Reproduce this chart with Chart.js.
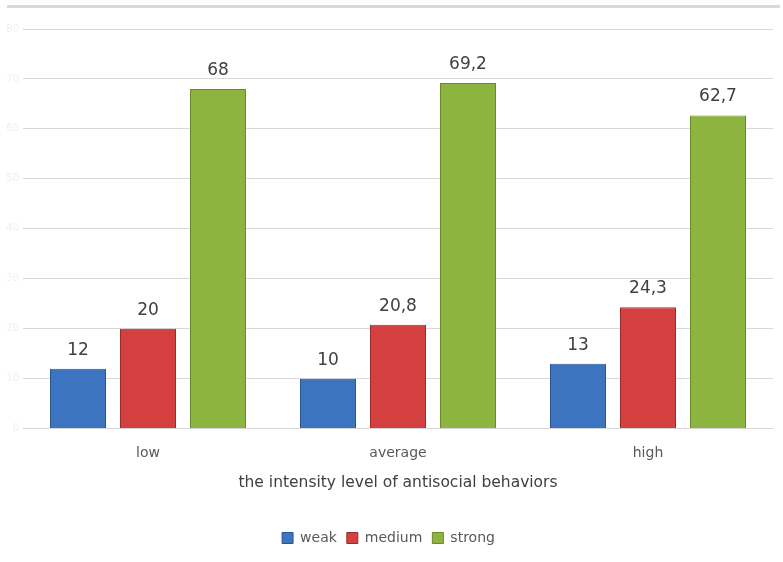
<!DOCTYPE html>
<html>
<head>
<meta charset="utf-8">
<script src="https://cdn.jsdelivr.net/npm/chart.js@4"></script>
<style>
  html, body { margin: 0; padding: 0; background: #fff; }
  #wrap { position: relative; width: 783px; height: 562px; }
  #topline { position: absolute; left: 7px; top: 5px; width: 773px; height: 3px; background: #d9d9d9; }
</style>
</head>
<body>
<div id="wrap">
  <div id="topline"></div>
  <canvas id="grafico" width="783" height="562"></canvas>
</div>
<script>
// Datos
const categorias = ['low', 'average', 'high'];
const weak = [12, 10, 13];
const medium = [20, 20.8, 24.3];
const strong = [68, 69.2, 62.7];
const ticksY = [0, 10, 20, 30, 40, 50, 60, 70, 80];

const fuente = "'DejaVu Sans', sans-serif";

// degradado horizontal para simular el relieve de las barras
function relleno(c1, c2, c3) {
    return function(context) {
        const el = context.element;
        const chart = context.chart;
        if (!el || !chart.chartArea || !Number.isFinite(el.x) || !Number.isFinite(el.width) || el.width <= 0) return c2;
        const w = el.width;
        const g = chart.ctx.createLinearGradient(el.x - w / 2, 0, el.x + w / 2, 0);
        g.addColorStop(0, c1);
        g.addColorStop(0.15, c2);
        g.addColorStop(0.85, c2);
        g.addColorStop(1, c3);
        return g;
    };
}

// etiquetas de valor encima de cada barra
const etiquetas = {
    id: 'etiquetas',
    afterDatasetsDraw(chart) {
        const ctx = chart.ctx;
        ctx.save();
        ctx.font = "17px " + fuente;
        ctx.fillStyle = '#404040';
        ctx.textAlign = 'center';
        ctx.textBaseline = 'bottom';
        chart.data.datasets.forEach((ds, i) => {
            chart.getDatasetMeta(i).data.forEach((bar, j) => {
                const txt = String(ds.data[j]).replace('.', ',');
                ctx.fillText(txt, bar.x, bar.y - 10);
            });
        });
        ctx.restore();
    }
};

new Chart(document.getElementById('grafico').getContext('2d'), {
    type: 'bar',
    data: {
        labels: categorias,
        datasets: [
            { label: 'weak', data: weak, backgroundColor: relleno('#2f5f9f', '#3d74c0', '#2b5a95'), borderColor: '#2a5590', borderWidth: 1 },
            { label: 'medium', data: medium, backgroundColor: relleno('#a83232', '#d43f3f', '#9e2d2d'), borderColor: '#9a2c2c', borderWidth: 1 },
            { label: 'strong', data: strong, backgroundColor: relleno('#6f9530', '#8cb43f', '#6a8f2c'), borderColor: '#688c2a', borderWidth: 1 }
        ]
    },
    options: {
        responsive: false,
        animation: false,
        categoryPercentage: 0.84,
        barPercentage: 0.8,
        layout: { padding: { left: 4, right: 10, top: 29, bottom: 7 } },
        plugins: {
            legend: {
                position: 'bottom',
                labels: {
                    boxWidth: 11,
                    boxHeight: 11,
                    padding: 10,
                    color: '#595959',
                    font: { family: fuente, size: 14 },
                    generateLabels(chart) {
                        const cols = ['#3d74c0', '#d43f3f', '#8cb43f'];
                        const bords = ['#2a5590', '#9a2c2c', '#688c2a'];
                        return chart.data.datasets.map((ds, i) => ({
                            text: ds.label,
                            fillStyle: cols[i],
                            strokeStyle: bords[i],
                            lineWidth: 1,
                            fontColor: '#595959',
                            datasetIndex: i
                        }));
                    }
                }
            },
            tooltip: { enabled: false }
        },
        scales: {
            x: {
                grid: { display: false },
                border: { color: '#d9d9d9', width: 1 },
                ticks: { color: '#595959', font: { family: fuente, size: 14 }, padding: 8 },
                title: {
                    display: true,
                    text: 'the intensity level of antisocial behaviors',
                    color: '#404040',
                    font: { family: fuente, size: 15.5 },
                    padding: { top: 4, bottom: 29 }
                }
            },
            y: {
                min: 0,
                max: 80,
                afterBuildTicks(scale) { scale.ticks = ticksY.map(v => ({ value: v })); },
                afterFit(scale) { scale.width = 19; },
                grid: { color: '#d9d9d9', drawTicks: false },
                border: { display: false },
                ticks: { color: '#f0f0f0', font: { family: fuente, size: 10 }, padding: 4 }
            }
        }
    },
    plugins: [etiquetas]
});
</script>
</body>
</html>
